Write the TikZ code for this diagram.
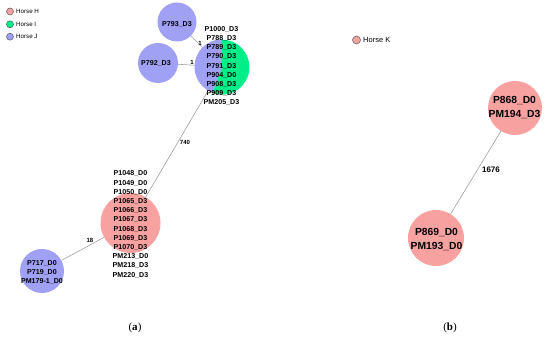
\documentclass[tikz,border=0pt]{standalone}
\usepackage{fontspec}
\setmainfont{Liberation Sans}
\newfontfamily\capfont{Liberation Serif}
\definecolor{hH}{HTML}{F7A1A1}
\definecolor{hI}{HTML}{00EE88}
\definecolor{hJ}{HTML}{A0A0F5}
\definecolor{edgec}{HTML}{A0A0A0}
\tikzset{
  vtx/.style={circle, inner sep=0pt, minimum size=#1, draw=none},
  lbl/.style={align=center, inner sep=0pt, font=\bfseries\fontsize{7.1}{9.2}\selectfont},
  biglbl/.style={align=center, inner sep=0pt, font=\bfseries\fontsize{10.3}{14}\selectfont},
  elbl/.style={inner sep=0pt, font=\bfseries\fontsize{6}{7}\selectfont},
  edge/.style={draw=edgec, line width=0.6pt},
  legdot/.style={circle, inner sep=0pt, minimum size=#1, draw=black!65, line width=0.5pt},
  legtxt/.style={anchor=west, inner sep=0pt},
  captxt/.style={inner sep=0pt, font=\capfont\fontsize{11}{12}\selectfont}
}
\begin{document}
\begin{tikzpicture}[x=1pt,y=1pt]
\useasboundingbox (0,0) rectangle (550,340);
% legend
\node[legdot=7pt, fill=hH] (lH) at (10,328.5) {};
\node[legdot=7pt, fill=hI] (lI) at (10,315.7) {};
\node[legdot=7pt, fill=hJ] (lJ) at (10,303.3) {};
\node[legtxt, font=\fontsize{6.2}{7}\selectfont] (tH) at (16,328.5) {Horse H};
\node[legtxt, font=\fontsize{6.2}{7}\selectfont] (tI) at (16,315.7) {Horse I};
\node[legtxt, font=\fontsize{6.2}{7}\selectfont] (tJ) at (16,303.3) {Horse J};
\node[legdot=8pt, fill=hH] (lK) at (356.5,300) {};
\node[legtxt, font=\fontsize{7.5}{8}\selectfont] (tK) at (363,300) {Horse K};
% vertices
\node[vtx=39pt, fill=hJ] (n793) at (177,318) {};
\node[vtx=40pt, fill=hJ] (n792) at (158,277) {};
\node[vtx=55pt] (pie) at (222,273) {};
\fill[hJ] (pie.center) -- (pie.90) arc[start angle=90,end angle=250,radius=27.5] -- cycle;
\fill[hI] (pie.center) -- (pie.250) arc[start angle=250,end angle=450,radius=27.5] -- cycle;
\node[vtx=60pt, fill=hH] (nH) at (130.5,117) {};
\node[vtx=44pt, fill=hJ] (nJ) at (42,69) {};
\node[vtx=54pt, fill=hH] (n868) at (515,232) {};
\node[vtx=56pt, fill=hH] (n869) at (436,102) {};
% edges
\draw[edge] (n793) -- (pie);
\draw[edge] (n792) -- (pie);
\draw[edge] (pie) -- (nH);
\draw[edge] (nH) -- (nJ);
\draw[edge] (n868) -- (n869);
% edge labels
\node[elbl] (e1) at (200,297) {1};
\node[elbl] (e2) at (192,278) {1};
\node[elbl] (e3) at (185,198) {740};
\node[elbl] (e4) at (90,99.3) {18};
\node[elbl, font=\bfseries\fontsize{8}{9}\selectfont] (e5) at (491,170) {1676};
% vertex labels
\node[lbl] (t793) at (177,315.5) {P793\_D3};
\node[lbl] (t792) at (156,277) {P792\_D3};
\node[lbl] (tpie) at (221.5,274) {P1000\_D3\\P788\_D3\\P789\_D3\\P790\_D3\\P791\_D3\\P904\_D0\\P908\_D3\\P909\_D3\\PM205\_D3};
\node[lbl] (tH) at (130.5,115.5) {P1048\_D0\\P1049\_D0\\P1050\_D0\\P1065\_D3\\P1066\_D3\\P1067\_D3\\P1068\_D3\\P1069\_D3\\P1070\_D3\\PM213\_D0\\PM218\_D3\\PM220\_D3};
\node[lbl] (tJ) at (42,67.3) {P717\_D0\\P719\_D0\\PM179-1\_D0};
\node[biglbl] (t868) at (514.5,232) {P868\_D0\\PM194\_D3};
\node[biglbl] (t869) at (436.5,100) {P869\_D0\\PM193\_D0};
% captions
\node[captxt] (capa) at (135,12) {(\textbf{a})};
\node[captxt] (capb) at (450,12) {(\textbf{b})};
\end{tikzpicture}
\end{document}
